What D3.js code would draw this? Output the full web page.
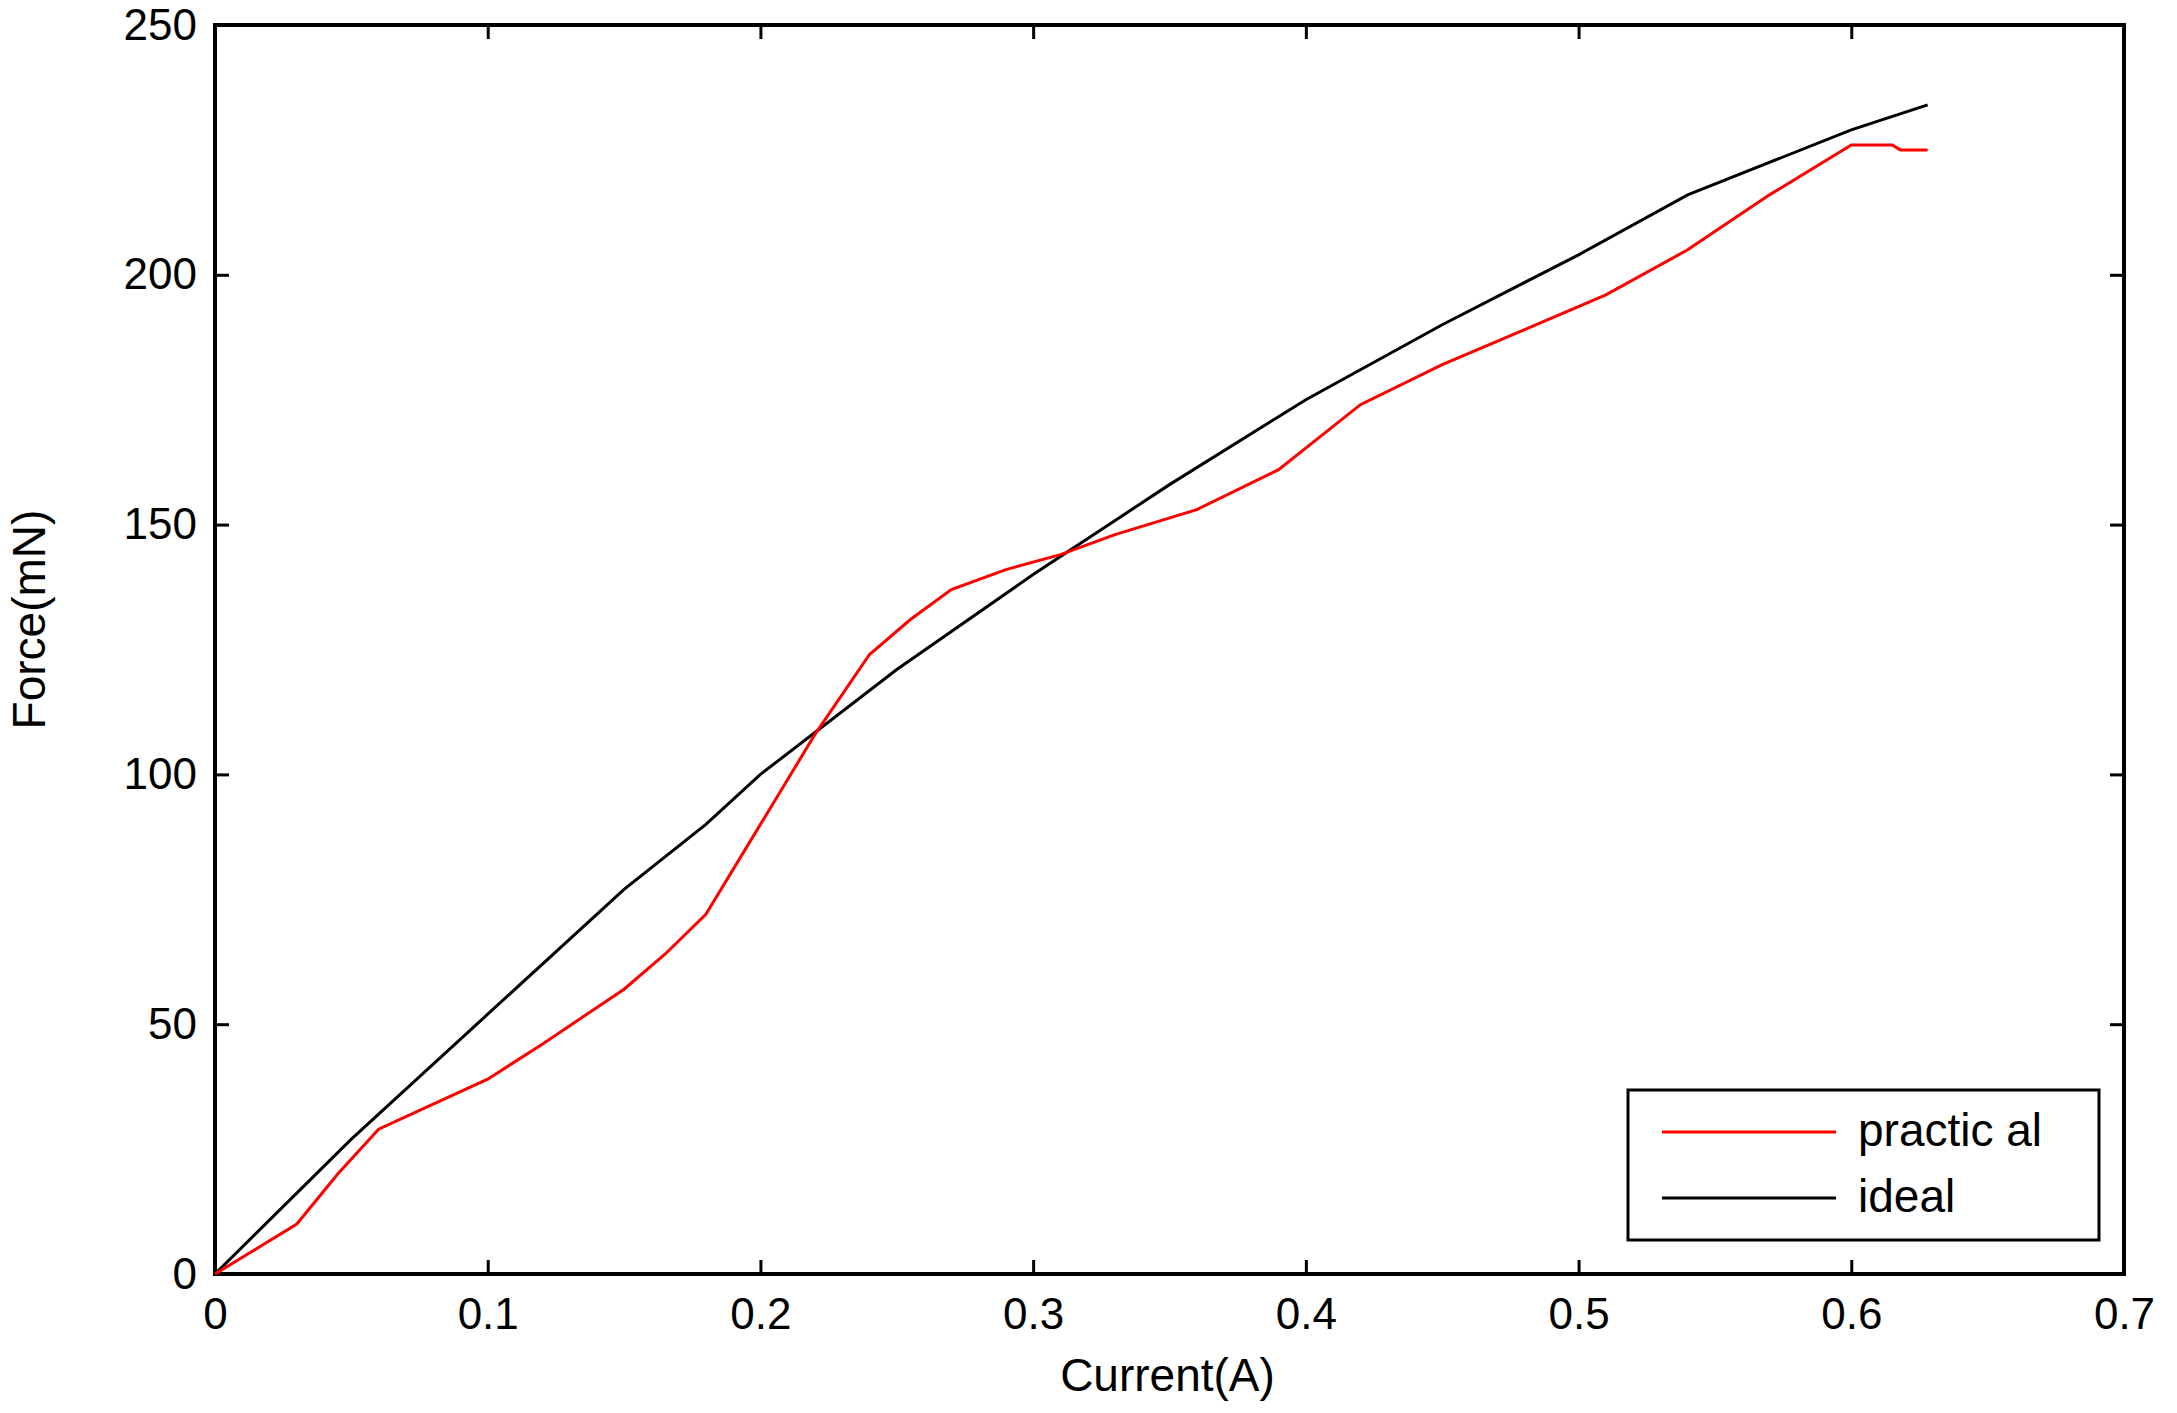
<!DOCTYPE html>
<html lang="en">
  <head>
    <meta charset="UTF-8" />
    <script src="https://d3js.org/d3.v7.min.js"></script>
    <style>
      body { margin: 0; background: white; }
      svg { display: block; font-family: 'Liberation Sans', Arial, sans-serif; }
    </style>
  </head>
  <body>
    <svg width="2177" height="1413"></svg>
    <script>
      const xTicks = [0, 0.1, 0.2, 0.3, 0.4, 0.5, 0.6, 0.7];
      const yTicks = [0, 50, 100, 150, 200, 250];
      const idealX = [0, 0.05, 0.1, 0.15, 0.18, 0.2, 0.25, 0.3, 0.35, 0.4, 0.45, 0.5, 0.54, 0.6, 0.628];
      const idealY = [0, 27, 52, 77, 90, 100, 121, 140, 158, 175, 190, 204, 216, 229, 234];
      const practicalX = [0, 0.03, 0.045, 0.06, 0.08, 0.1, 0.12, 0.15, 0.165, 0.18, 0.2, 0.22, 0.24, 0.255, 0.27, 0.29, 0.31, 0.33, 0.36, 0.39, 0.42, 0.45, 0.48, 0.51, 0.54, 0.57, 0.6, 0.615, 0.618, 0.628];
      const practicalY = [0, 10, 20, 29, 34, 39, 46, 57, 64, 72, 90, 108, 124, 131, 137, 141, 144, 148, 153, 161, 174, 182, 189, 196, 205, 216, 226, 226, 225, 225];

      const margin = { top: 25, right: 53, bottom: 139, left: 215 },
        width = 2177 - margin.left - margin.right,
        height = 1413 - margin.top - margin.bottom;

      const svg = d3.select('svg').append('g')
        .attr('transform', `translate(${margin.left},${margin.top})`);

      const x = d3.scaleLinear().domain([0, 0.7]).range([0, width]);
      const y = d3.scaleLinear().domain([0, 250]).range([height, 0]);

      // axes, ticks pointing inward on all four sides
      const styleAxis = (g) => {
        g.select('.domain').remove();
        g.selectAll('line').attr('stroke', '#000').attr('stroke-width', 3);
        g.selectAll('text').attr('font-size', 44).attr('fill', '#000');
      };
      svg.append('g').attr('transform', `translate(0,${height})`)
        .call(d3.axisBottom(x).tickValues(xTicks).tickSize(-14).tickPadding(24).tickFormat(d3.format('')))
        .call(styleAxis);
      svg.append('g')
        .call(d3.axisLeft(y).tickValues(yTicks).tickSize(-14).tickPadding(18))
        .call(styleAxis);
      svg.append('g')
        .call(d3.axisTop(x).tickValues(xTicks).tickSize(-14).tickFormat(''))
        .call(styleAxis);
      svg.append('g').attr('transform', `translate(${width},0)`)
        .call(d3.axisRight(y).tickValues(yTicks).tickSize(-14).tickFormat(''))
        .call(styleAxis);

      svg.append('rect').attr('width', width).attr('height', height)
        .attr('fill', 'none').attr('stroke', '#000').attr('stroke-width', 4);

      const line = d3.line().x((d) => x(d[0])).y((d) => y(d[1]));
      svg.append('path').datum(d3.zip(idealX, idealY))
        .attr('fill', 'none').attr('stroke', '#000').attr('stroke-width', 3).attr('d', line);
      svg.append('path').datum(d3.zip(practicalX, practicalY))
        .attr('fill', 'none').attr('stroke', '#ff0000').attr('stroke-width', 3).attr('d', line);

      // legend
      const lg = svg.append('g').attr('transform', `translate(${1628 - margin.left},${1090 - margin.top})`);
      lg.append('rect').attr('width', 471).attr('height', 150)
        .attr('fill', 'white').attr('stroke', '#000').attr('stroke-width', 3);
      [['practic al', '#ff0000'], ['ideal', '#000']].forEach(([name, c], i) => {
        const yy = 42 + i * 66;
        lg.append('line').attr('x1', 34).attr('x2', 208).attr('y1', yy).attr('y2', yy)
          .attr('stroke', c).attr('stroke-width', 3);
        lg.append('text').attr('x', 230).attr('y', yy + 14).attr('font-size', 46).text(name);
      });

      svg.append('text').attr('x', width / 2 - 2).attr('y', height + 117)
        .attr('text-anchor', 'middle').attr('font-size', 46).text('Current(A)');
      svg.append('text').attr('transform', 'rotate(-90)')
        .attr('x', -height / 2 + 30).attr('y', -170)
        .attr('text-anchor', 'middle').attr('font-size', 46).text('Force(mN)');
    </script>
  </body>
</html>
